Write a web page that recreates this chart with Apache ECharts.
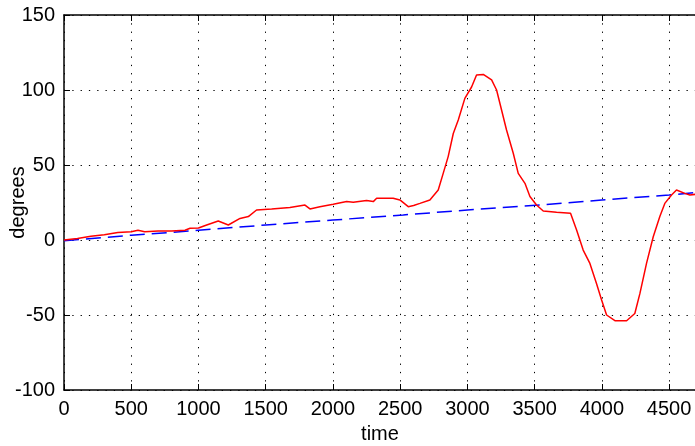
<!DOCTYPE html>
<html>
<head>
<meta charset="utf-8">
<script src="https://cdn.jsdelivr.net/npm/echarts@6/dist/echarts.min.js"></script>
<style>
  html, body { margin: 0; padding: 0; background: #fff; }
  #chart { width: 695px; height: 446px; }
</style>
</head>
<body>
<div id="chart"></div>
<script>
// Measured angle (red) over time
const measuredTime = [0, 100, 200, 300, 400, 500, 550, 600, 700, 800, 900, 937, 1000, 1061, 1147, 1222, 1309, 1371, 1432, 1544, 1680, 1792, 1829, 1903, 2002, 2102, 2151, 2250, 2300, 2325, 2448, 2498, 2560, 2600, 2647, 2721, 2783, 2820, 2857, 2895, 2932, 2981, 3031, 3068, 3118, 3180, 3217, 3242, 3291, 3341, 3378, 3428, 3465, 3514, 3564, 3663, 3767, 3812, 3861, 3911, 3960, 3998, 4035, 4097, 4184, 4245, 4283, 4332, 4382, 4431, 4468, 4518, 4555, 4617, 4654, 4700];
const measuredDeg = [0, 1, 2.5, 3.5, 5, 5.5, 6.5, 5.5, 6, 6, 6.5, 7.8, 8, 10, 12.7, 10, 14.4, 15.6, 20, 20.7, 21.6, 23.3, 20.7, 22.2, 23.8, 25.6, 25.1, 26.4, 25.6, 27.8, 27.8, 26.7, 22.2, 23, 24.4, 26.7, 33.3, 44.4, 55.6, 71, 80, 94.4, 102, 110, 110.4, 106.7, 100, 91, 73.3, 57.8, 44.4, 37.8, 29, 23.3, 19.3, 18.5, 17.8, 6.7, -6.7, -15.6, -29, -40, -50, -53.8, -53.8, -49, -35.6, -15.6, 2.2, 15.6, 24.4, 30, 33.3, 31.1, 30, 30.5];

// Reference angle (blue dashed) over time
const referenceTime = [0, 500, 937, 1000, 1500, 2000, 2523, 3000, 3539, 4000, 4500, 4700];
const referenceDeg = [-0.5, 3.2, 6, 6.5, 10, 13.3, 16.7, 20, 23.3, 26.7, 30, 31.6];

// Axis tick values
const xTicks = [0, 500, 1000, 1500, 2000, 2500, 3000, 3500, 4000, 4500];
const yTicks = [-100, -50, 0, 50, 100, 150];

const pairs = (xs, ys) => xs.map((x, i) => [x, ys[i]]);

const labelFont = { fontFamily: 'Liberation Sans, Arial, sans-serif', fontSize: 20, color: '#000' };
const gridDots = { show: true, lineStyle: { color: '#000', width: 1, type: [1.3, 7] } };
const tickStyle = { show: true, inside: true, length: 6, lineStyle: { color: '#000', width: 1 } };
const frameLine = { show: true, onZero: false, lineStyle: { color: '#000', width: 1.5 } };

const chart = echarts.init(document.getElementById('chart'), null, { renderer: 'canvas' });
chart.setOption({
  animation: false,
  backgroundColor: '#fff',
  grid: { left: 64, top: 15, width: 632, height: 375, containLabel: false, outerBoundsMode: 'none' },
  xAxis: [{
    type: 'value', min: 0, max: 4700, interval: 500,
    name: 'time', nameLocation: 'middle', nameGap: 34,
    nameTextStyle: labelFont,
    axisLine: frameLine,
    axisTick: tickStyle,
    axisLabel: Object.assign({}, labelFont, { margin: 9,
      formatter: v => xTicks.includes(v) ? String(v) : '' }),
    splitLine: gridDots
  }, {
    type: 'value', min: 0, max: 4700, interval: 500, position: 'top',
    axisLine: frameLine,
    axisTick: tickStyle,
    axisLabel: { show: false },
    splitLine: { show: false }
  }],
  yAxis: {
    type: 'value', min: -100, max: 150, interval: 50,
    name: 'degrees', nameLocation: 'middle', nameGap: 36, nameMoveOverlap: false,
    nameTextStyle: labelFont,
    axisLine: frameLine,
    axisTick: tickStyle,
    axisLabel: Object.assign({}, labelFont, { margin: 9,
      formatter: v => yTicks.includes(v) ? String(v) : '' }),
    splitLine: gridDots
  },
  series: [{
    name: 'measured', type: 'line', xAxisIndex: 0,
    data: pairs(measuredTime, measuredDeg),
    showSymbol: false, smooth: false,
    lineStyle: { color: '#ff0000', width: 1.5 },
    z: 3
  }, {
    name: 'reference', type: 'line', xAxisIndex: 0,
    data: pairs(referenceTime, referenceDeg),
    showSymbol: false,
    lineStyle: { color: '#0000ff', width: 1.5, type: [15, 7] },
    z: 2
  }]
});
</script>
</body>
</html>
